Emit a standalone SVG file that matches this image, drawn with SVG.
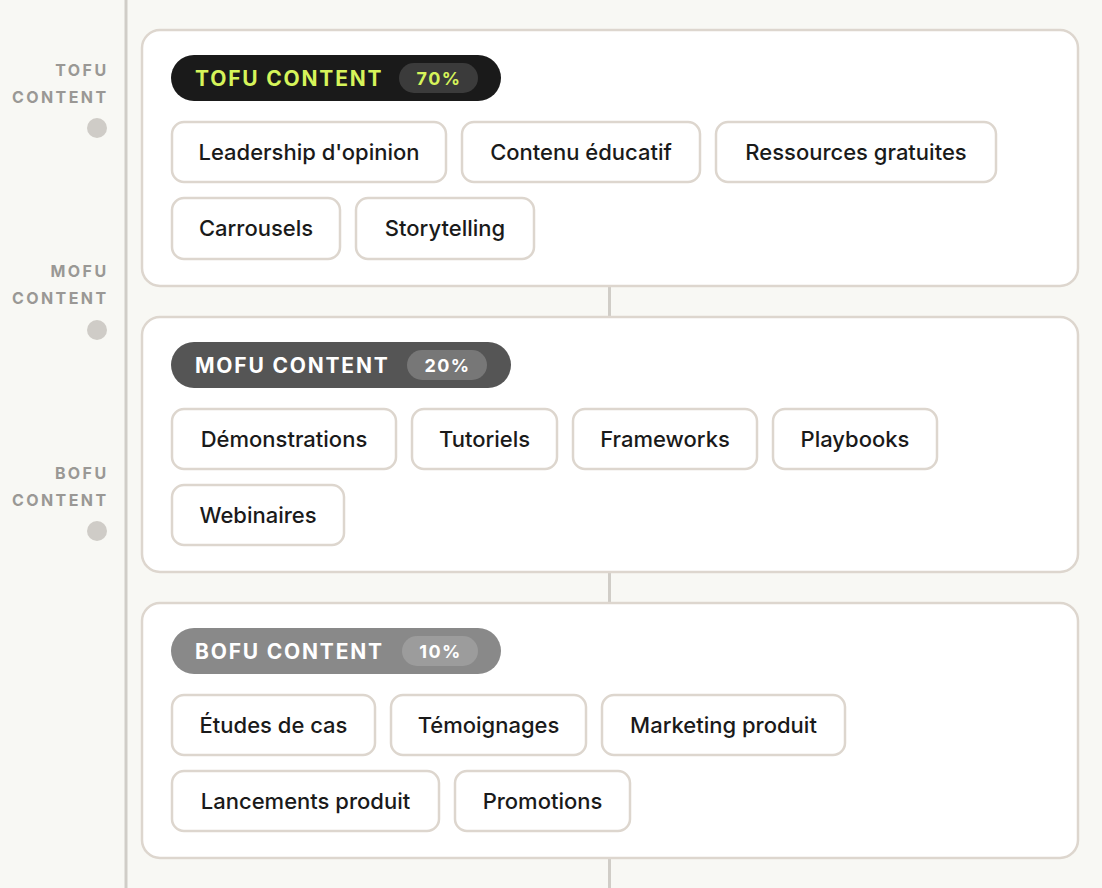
<svg xmlns="http://www.w3.org/2000/svg" width="1102" height="888" viewBox="0 0 1102 888">
<style>
.side{font-family:Inter,"Liberation Sans",sans-serif;font-size:16px;font-weight:700;fill:#9a9895;letter-spacing:2.4px;text-anchor:end}
.dot{fill:#cfccc7}
.card{fill:#ffffff;stroke:#ddd6ce;stroke-width:2.5}
.tag{fill:#ffffff;stroke:#ddd6ce;stroke-width:2.5}
.tt{font-family:Inter,"Liberation Sans",sans-serif;font-size:22px;font-weight:500;fill:#1a1a1a;text-anchor:middle}
.pt{font-family:Inter,"Liberation Sans",sans-serif;font-size:21px;font-weight:700;letter-spacing:1.8px}
.pc{font-family:Inter,"Liberation Sans",sans-serif;font-size:18px;font-weight:700;letter-spacing:1.4px;text-anchor:middle}
.conn{stroke:#d0cdc7;stroke-width:3;fill:none}
</style>
<rect x="0" y="0" width="1102" height="888" fill="#f8f8f4"/>
<g id="connectors">
<line class="conn" x1="126" y1="0" x2="126" y2="888"/>
<line class="conn" x1="609.5" y1="286" x2="609.5" y2="316"/>
<line class="conn" x1="609.5" y1="572" x2="609.5" y2="602"/>
<line class="conn" x1="609.5" y1="858" x2="609.5" y2="888"/>
</g>
<g id="side-labels">
<text class="side" x="108.5" y="76">TOFU</text>
<text class="side" x="108.5" y="103">CONTENT</text>
<circle class="dot" cx="97" cy="128" r="10"/>
<text class="side" x="108.5" y="277">MOFU</text>
<text class="side" x="108.5" y="304">CONTENT</text>
<circle class="dot" cx="97" cy="330" r="10"/>
<text class="side" x="108.5" y="479">BOFU</text>
<text class="side" x="108.5" y="506">CONTENT</text>
<circle class="dot" cx="97" cy="531" r="10"/>
</g>
<g id="tofu">
<rect class="card" x="142" y="30" width="936" height="256" rx="18"/>
<rect x="171" y="55" width="330" height="46" rx="23" fill="#1a1a1a"/>
<text class="pt" x="195" y="85.5" fill="#d6f45a">TOFU CONTENT</text>
<rect x="399" y="63" width="79" height="30" rx="15" fill="#3b3b3b"/>
<text class="pc" x="439" y="84.5" fill="#d6f45a">70%</text>
<rect class="tag" x="172" y="122" width="274" height="60" rx="12"/><text class="tt" x="309" y="160">Leadership d'opinion</text>
<rect class="tag" x="462" y="122" width="238" height="60" rx="12"/><text class="tt" x="581" y="160">Contenu éducatif</text>
<rect class="tag" x="716" y="122" width="280" height="60" rx="12"/><text class="tt" x="856" y="160">Ressources gratuites</text>
<rect class="tag" x="172" y="198" width="168" height="61" rx="12"/><text class="tt" x="256" y="236">Carrousels</text>
<rect class="tag" x="356" y="198" width="178" height="61" rx="12"/><text class="tt" x="445" y="236">Storytelling</text>
</g>
<g id="mofu">
<rect class="card" x="142" y="317" width="936" height="255" rx="18"/>
<rect x="171" y="342" width="340" height="46" rx="23" fill="#555555"/>
<text class="pt" x="195" y="372.5" fill="#ffffff">MOFU CONTENT</text>
<rect x="407" y="350" width="80" height="30" rx="15" fill="#777777"/>
<text class="pc" x="447.5" y="371.5" fill="#ffffff">20%</text>
<rect class="tag" x="172" y="409" width="224" height="60" rx="12"/><text class="tt" x="284" y="447">Démonstrations</text>
<rect class="tag" x="412" y="409" width="145" height="60" rx="12"/><text class="tt" x="484.5" y="447">Tutoriels</text>
<rect class="tag" x="573" y="409" width="184" height="60" rx="12"/><text class="tt" x="665" y="447">Frameworks</text>
<rect class="tag" x="773" y="409" width="164" height="60" rx="12"/><text class="tt" x="855" y="447">Playbooks</text>
<rect class="tag" x="172" y="485" width="172" height="60" rx="12"/><text class="tt" x="258" y="523">Webinaires</text>
</g>
<g id="bofu">
<rect class="card" x="142" y="603" width="936" height="255" rx="18"/>
<rect x="171" y="628" width="330" height="46" rx="23" fill="#898989"/>
<text class="pt" x="195" y="658.5" fill="#ffffff">BOFU CONTENT</text>
<rect x="402" y="636" width="76" height="30" rx="15" fill="#9c9c9c"/>
<text class="pc" x="440.5" y="657.5" fill="#ffffff">10%</text>
<rect class="tag" x="172" y="695" width="203" height="60" rx="12"/><text class="tt" x="273.5" y="733">Études de cas</text>
<rect class="tag" x="391" y="695" width="195" height="60" rx="12"/><text class="tt" x="488.5" y="733">Témoignages</text>
<rect class="tag" x="602" y="695" width="243" height="60" rx="12"/><text class="tt" x="723.5" y="733">Marketing produit</text>
<rect class="tag" x="172" y="771" width="267" height="60" rx="12"/><text class="tt" x="305.5" y="809">Lancements produit</text>
<rect class="tag" x="455" y="771" width="175" height="60" rx="12"/><text class="tt" x="542.5" y="809">Promotions</text>
</g>
</svg>
